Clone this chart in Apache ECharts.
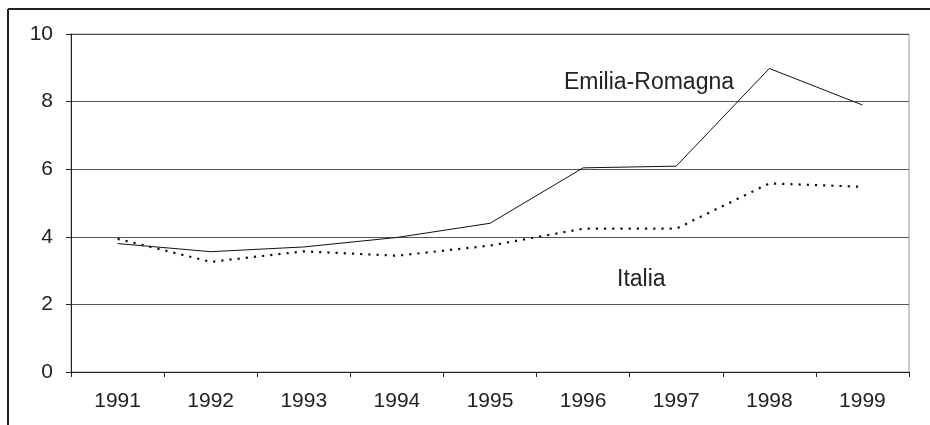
<!DOCTYPE html>
<html>
<head>
<meta charset="utf-8">
<script src="https://cdn.jsdelivr.net/npm/echarts@6/dist/echarts.min.js"></script>
<style>
html,body{margin:0;padding:0;background:#fff;}
#c{width:930px;height:425px;}
</style>
</head>
<body>
<div id="c"></div>
<script>
var years = ['1991','1992','1993','1994','1995','1996','1997','1998','1999'];
var emiliaRomagna = [3.8, 3.56, 3.7, 3.98, 4.4, 6.04, 6.09, 8.98, 7.9];
var italia = [3.94, 3.26, 3.57, 3.44, 3.74, 4.24, 4.24, 5.58, 5.48];
var yTicks = [0, 2, 4, 6, 8, 10];

var chart = echarts.init(document.getElementById('c'));
var font = 'Liberation Sans, Arial, sans-serif';
chart.setOption({
  animation: false,
  backgroundColor: '#fff',
  grid: {left: 71, right: 21, top: 34, bottom: 53, show: true, borderColor: '#999', borderWidth: 1, backgroundColor: 'transparent'},
  xAxis: {
    type: 'category',
    data: years,
    boundaryGap: true,
    axisLine: {lineStyle: {color: '#222', width: 1}},
    axisTick: {show: true, length: 5, lineStyle: {color: '#222'}},
    axisLabel: {color: '#222', fontSize: 21, fontFamily: font, margin: 19}
  },
  yAxis: {
    type: 'value',
    min: yTicks[0],
    max: yTicks[yTicks.length - 1],
    interval: 2,
    axisLine: {show: true, lineStyle: {color: '#222', width: 1}},
    axisTick: {show: true, length: 5, lineStyle: {color: '#222'}},
    axisLabel: {color: '#222', fontSize: 21, fontFamily: font, margin: 18},
    splitLine: {show: true, lineStyle: {color: '#555', width: 1}}
  },
  series: [
    {
      name: 'Emilia-Romagna',
      type: 'line',
      data: emiliaRomagna,
      symbol: 'none',
      lineStyle: {color: '#111', width: 1},
      z: 3
    },
    {
      name: 'Italia',
      type: 'line',
      data: italia,
      symbol: 'none',
      lineStyle: {color: '#111', width: 2.2, type: [2.2, 6]},
      z: 3
    }
  ],
  graphic: [
    {type: 'line', shape: {x1: 8, y1: 9, x2: 930, y2: 9}, style: {stroke: '#222', lineWidth: 2}},
    {type: 'line', shape: {x1: 8, y1: 9, x2: 8, y2: 425}, style: {stroke: '#222', lineWidth: 2}},
    {type: 'text', left: 564, top: 71, style: {text: 'Emilia-Romagna', fill: '#222', font: '23px ' + font}},
    {type: 'text', left: 617, top: 268, style: {text: 'Italia', fill: '#222', font: '23px ' + font}}
  ]
});
</script>
</body>
</html>
